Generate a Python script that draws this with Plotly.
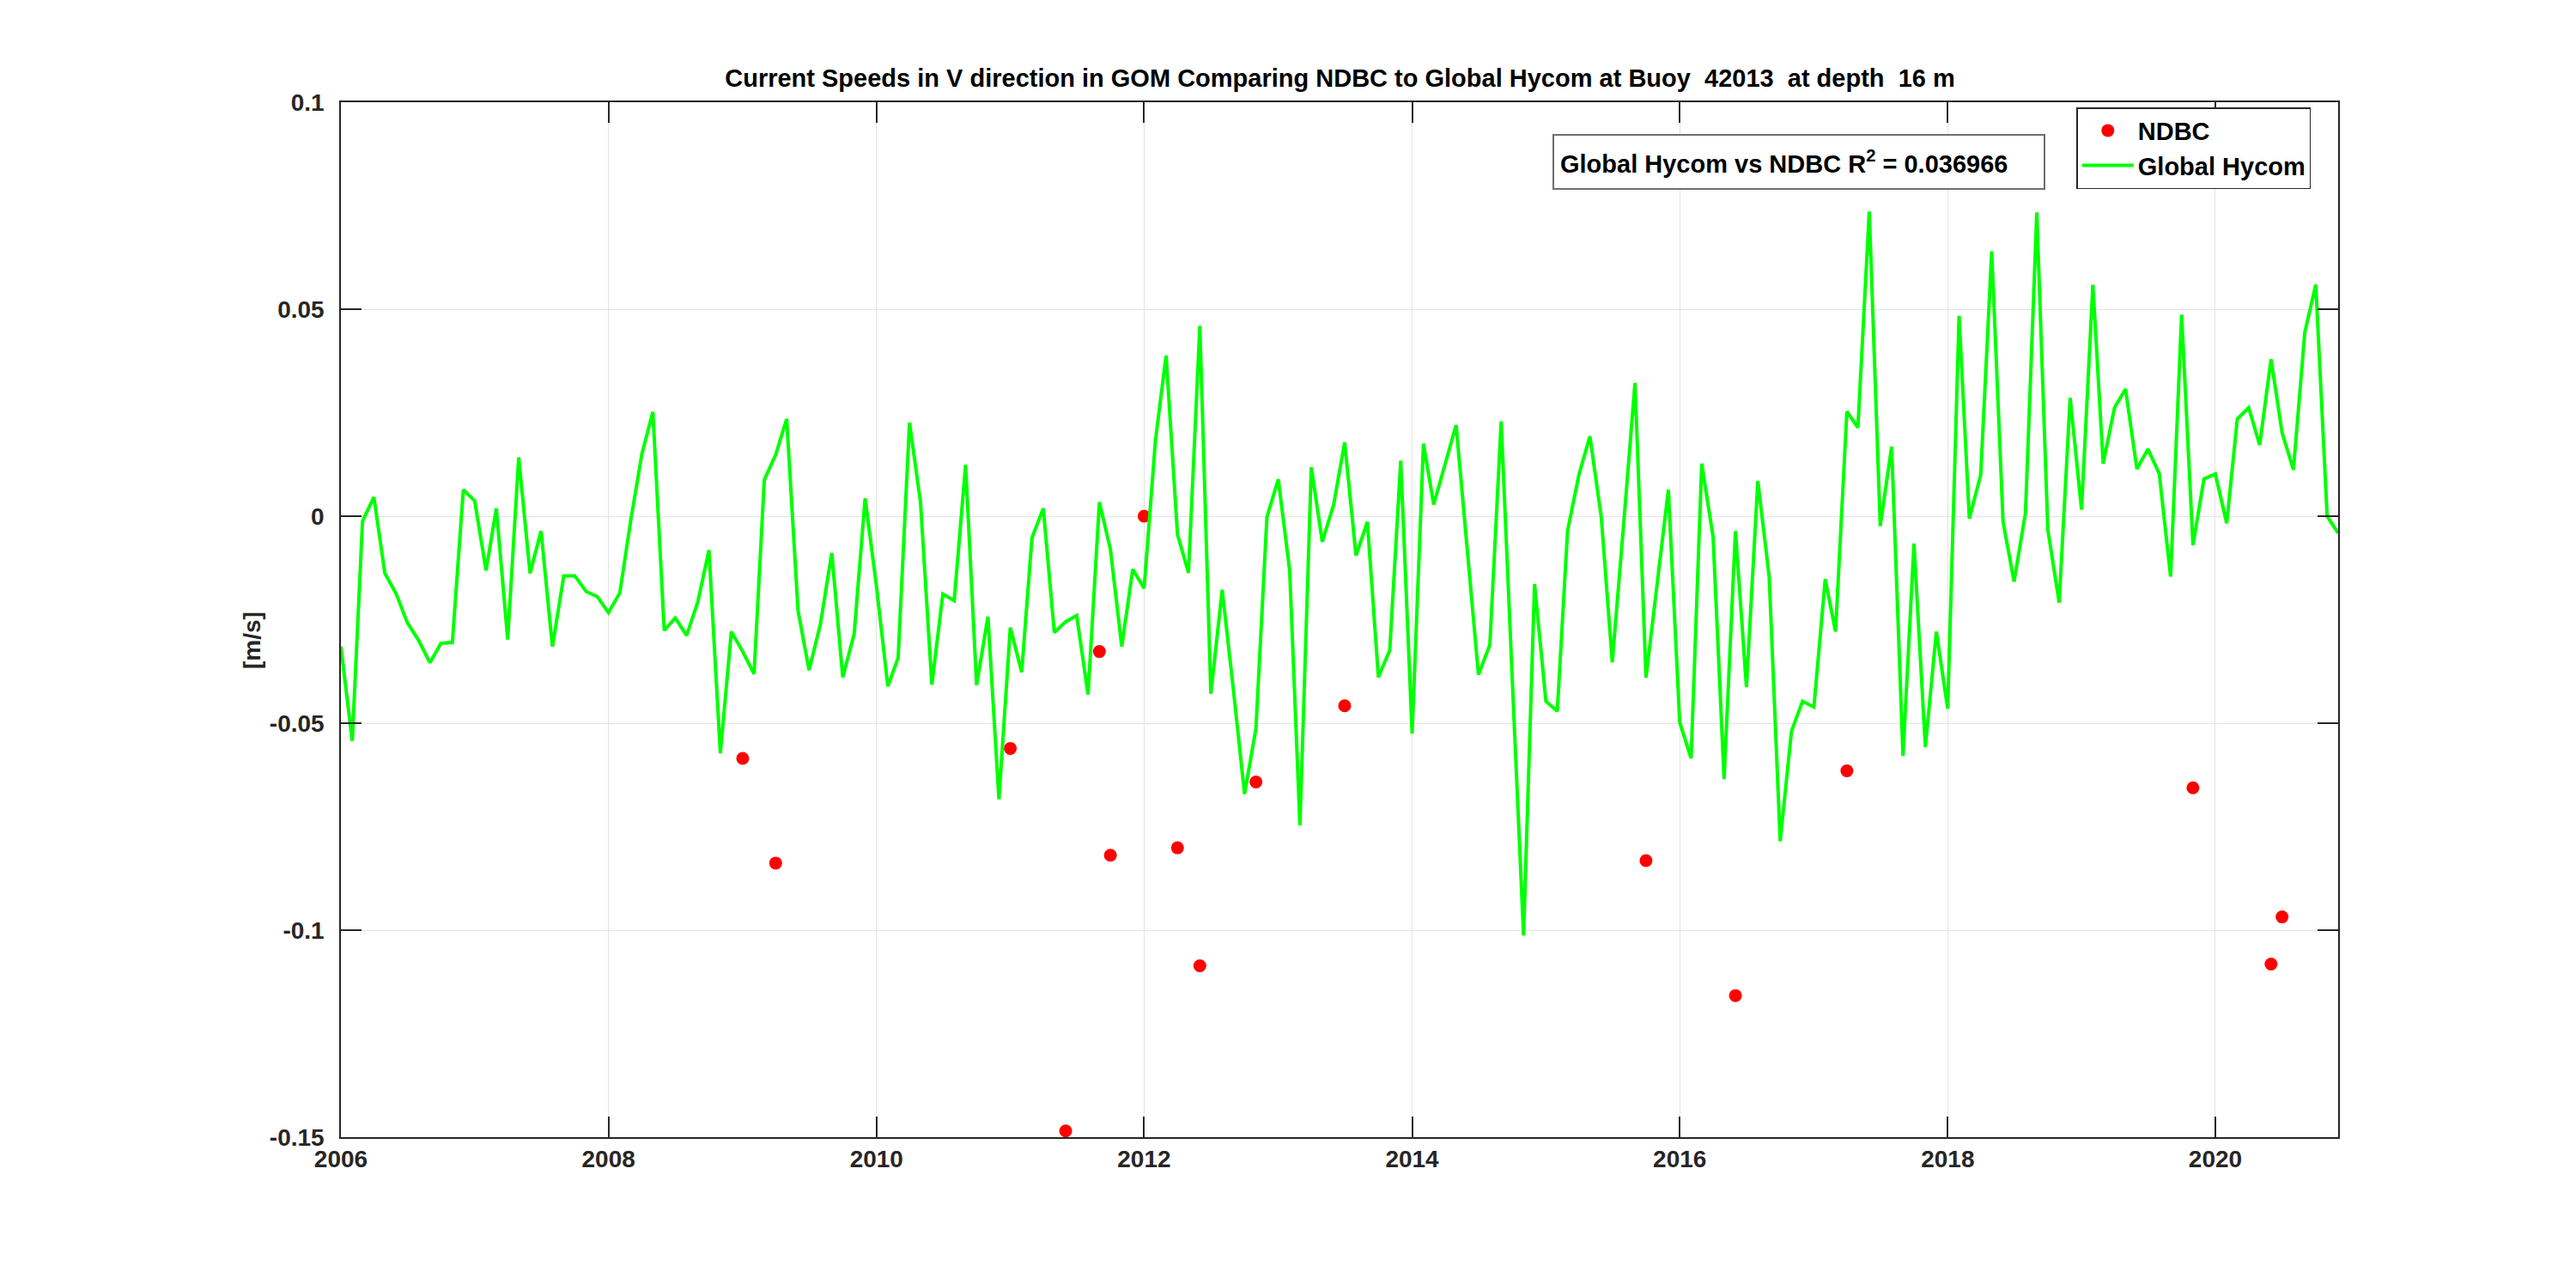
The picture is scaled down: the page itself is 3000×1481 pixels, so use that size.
import plotly.graph_objects as go
import pandas as pd

# ---------------- data ----------------
series_start = "2006-01-01"

hycom_2006 = [-0.0315, -0.0543, -0.0012, 0.0046, -0.0138, -0.0188, -0.0257, -0.0300, -0.0354, -0.0307, -0.0305, 0.0064]
hycom_2007 = [0.0037, -0.0131, 0.0019, -0.0298, 0.0142, -0.0138, -0.0036, -0.0315, -0.0144, -0.0144, -0.0182, -0.0194]
hycom_2008 = [-0.0233, -0.0185, -0.0014, 0.0150, 0.0252, -0.0276, -0.0246, -0.0288, -0.0206, -0.0082, -0.0573, -0.0279]
hycom_2009 = [-0.0327, -0.0381, 0.0088, 0.0148, 0.0235, -0.0228, -0.0372, -0.0261, -0.0089, -0.0389, -0.0285, 0.0043]
hycom_2010 = [-0.0170, -0.0411, -0.0342, 0.0226, 0.0034, -0.0407, -0.0188, -0.0204, 0.0124, -0.0408, -0.0243, -0.0684]
hycom_2011 = [-0.0269, -0.0377, -0.0053, 0.0019, -0.0281, -0.0255, -0.0240, -0.0431, 0.0034, -0.0080, -0.0315, -0.0128]
hycom_2012 = [-0.0174, 0.0184, 0.0388, -0.0044, -0.0137, 0.0460, -0.0429, -0.0178, -0.0423, -0.0671, -0.0513, -0.0002]
hycom_2013 = [0.0089, -0.0131, -0.0747, 0.0118, -0.0062, 0.0028, 0.0178, -0.0095, -0.0014, -0.0389, -0.0324, 0.0134]
hycom_2014 = [-0.0525, 0.0175, 0.0028, 0.0124, 0.0220, -0.0086, -0.0383, -0.0311, 0.0229, -0.0390, -0.1013, -0.0164]
hycom_2015 = [-0.0447, -0.0471, -0.0036, 0.0100, 0.0193, -0.0002, -0.0353, -0.0020, 0.0322, -0.0390, -0.0163, 0.0064]
hycom_2016 = [-0.0498, -0.0585, 0.0127, -0.0050, -0.0635, -0.0036, -0.0413, 0.0085, -0.0146, -0.0785, -0.0519, -0.0447]
hycom_2017 = [-0.0461, -0.0152, -0.0279, 0.0253, 0.0214, 0.0736, -0.0024, 0.0168, -0.0579, -0.0066, -0.0558, -0.0279]
hycom_2018 = [-0.0465, 0.0484, -0.0006, 0.0100, 0.0640, -0.0014, -0.0158, 0.0007, 0.0734, -0.0032, -0.0209, 0.0286]
hycom_2019 = [0.0016, 0.0559, 0.0127, 0.0262, 0.0307, 0.0114, 0.0162, 0.0103, -0.0146, 0.0487, -0.0070, 0.0090]
hycom_2020 = [0.0102, -0.0017, 0.0235, 0.0262, 0.0172, 0.0379, 0.0202, 0.0112, 0.0444, 0.0559, 0.0000, -0.0041]

hycom_values = (hycom_2006 + hycom_2007 + hycom_2008 + hycom_2009 + hycom_2010 +
                hycom_2011 + hycom_2012 + hycom_2013 + hycom_2014 + hycom_2015 +
                hycom_2016 + hycom_2017 + hycom_2018 + hycom_2019 + hycom_2020)
hycom_dates = pd.date_range(series_start, periods=len(hycom_values), freq="MS")

ndbc_dates = ["2009-01-01", "2009-04-01", "2011-01-01", "2011-06-01", "2011-09-01",
              "2011-10-01", "2012-01-01", "2012-04-01", "2012-06-01", "2012-11-01",
              "2013-07-01", "2015-10-01", "2016-06-01", "2017-04-01", "2019-11-01",
              "2020-06-01", "2020-07-01"]
ndbc_values = [-0.0585, -0.0838, -0.0561, -0.1485, -0.0327,
               -0.0819, 0.0000, -0.0801, -0.1086, -0.0642,
               -0.0458, -0.0832, -0.1158, -0.0615, -0.0656,
               -0.1082, -0.0968]

y_tick_values = [-0.15, -0.1, -0.05, 0, 0.05, 0.1]
y_tick_labels = ["-0.15", "-0.1", "-0.05", "0", "0.05", "0.1"]
x_range = ["2006-01-01", "2020-12-01"]
y_range = [-0.15, 0.1]

title_text = "Current Speeds in V direction in GOM Comparing NDBC to Global Hycom at Buoy  42013  at depth  16 m"
r2_text = "Global Hycom vs NDBC R<sup>2</sup> = 0.036966"
y_label = "[m/s]"

FONT = "Liberation Sans, Arial, Helvetica, sans-serif"

# ---------------- figure ----------------
fig = go.Figure()
fig.add_trace(go.Scatter(
    x=ndbc_dates, y=ndbc_values, mode="markers", name="NDBC",
    marker=dict(color="#ff0000", size=15, line=dict(width=0)),
))
fig.add_trace(go.Scatter(
    x=hycom_dates, y=hycom_values, mode="lines", name="Global Hycom",
    line=dict(color="#00ff00", width=4),
))

axis_common = dict(
    showgrid=True, gridcolor="#e3e3e3", gridwidth=1,
    showline=True, linecolor="#262626", linewidth=1.5, mirror="ticks",
    ticks="inside", ticklen=24, tickwidth=1.5, tickcolor="#262626",
    zeroline=False,
    tickfont=dict(family=FONT, size=28, color="#262626", weight="bold"),
)

fig.update_xaxes(
    type="date", range=x_range, tick0="2006-01-01", dtick="M24", tickformat="%Y",
    ticklabelstandoff=0,
    **axis_common,
)
fig.update_yaxes(
    range=y_range, tickvals=y_tick_values, ticktext=y_tick_labels,
    ticklabelstandoff=12,
    **axis_common,
)

fig.update_layout(
    width=3000, height=1481,
    margin=dict(l=389, r=285, t=111, b=165, autoexpand=False),
    paper_bgcolor="white", plot_bgcolor="white",
    font=dict(family=FONT, color="black"),
    title=dict(text=title_text, x=0.5175, xanchor="center", y=0.944, yanchor="middle",
               font=dict(family=FONT, size=29, color="black", weight="bold")),
    showlegend=True,
    legend=dict(
        x=0.869, y=0.995, xanchor="left", yanchor="top",
        bgcolor="white", bordercolor="#262626", borderwidth=1.5,
        font=dict(family=FONT, size=29, color="black", weight="bold"),
        tracegroupgap=0, itemwidth=60,
    ),
    annotations=[
        dict(text=r2_text, xref="paper", yref="paper", x=0.730, y=0.9425,
             xanchor="center", yanchor="middle", showarrow=False,
             width=556, height=47, align="left",
             bgcolor="white", bordercolor="#6e6e6e", borderwidth=2, borderpad=7,
             font=dict(family=FONT, size=29, color="black", weight="bold")),
        dict(text=y_label, xref="paper", yref="paper", x=-0.0445, y=0.48,
             xanchor="center", yanchor="middle", showarrow=False, textangle=-90,
             font=dict(family=FONT, size=28, color="#262626", weight="bold")),
    ],
)

fig.write_html("out.html")
